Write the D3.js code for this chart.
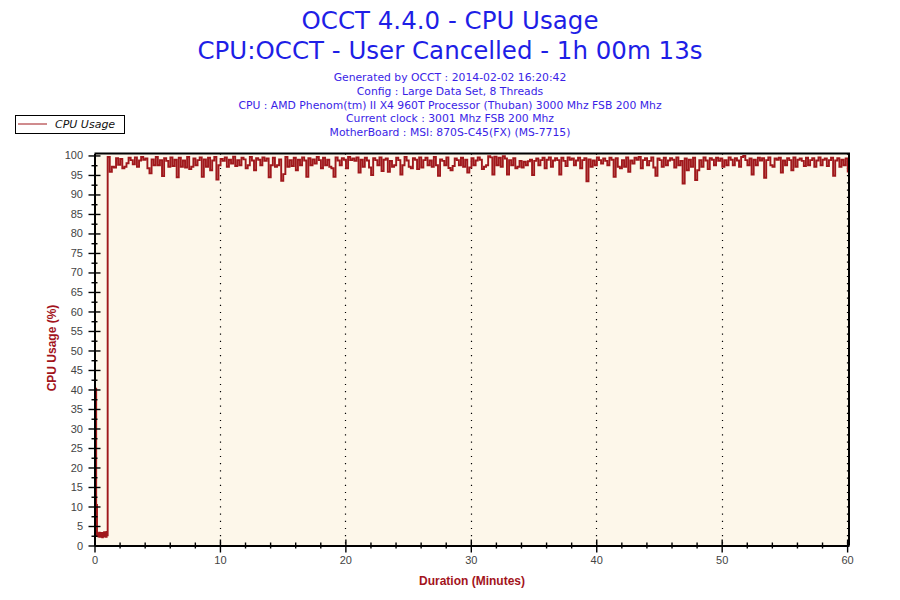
<!DOCTYPE html>
<html>
<head>
<meta charset="utf-8">
<script src="https://cdn.jsdelivr.net/npm/d3@7"></script>
<style>
  body { margin: 0; background: #fff; }
  svg { display: block; }
</style>
</head>
<body>
<div id="chart"></div>
<script>
// chart text
var titleLines = ["OCCT 4.4.0 - CPU Usage", "CPU:OCCT - User Cancelled - 1h 00m 13s"];
var infoLines = [
  "Generated by OCCT : 2014-02-02 16:20:42",
  "Config : Large Data Set, 8 Threads",
  "CPU : AMD Phenom(tm) II X4 960T Processor (Thuban) 3000 Mhz FSB 200 Mhz",
  "Current clock : 3001 Mhz FSB 200 Mhz",
  "MotherBoard : MSI: 870S-C45(FX) (MS-7715)"
];
var seriesName = "CPU Usage";

// axis ticks
var yMajorTicks = [0, 5, 10, 15, 20, 25, 30, 35, 40, 45, 50, 55, 60, 65, 70, 75, 80, 85, 90, 95, 100];
var yMinorTicks = [2.5, 7.5, 12.5, 17.5, 22.5, 27.5, 32.5, 37.5, 42.5, 47.5, 52.5, 57.5, 62.5, 67.5, 72.5, 77.5, 82.5, 87.5, 92.5, 97.5];
var xMajorTicks = [0, 10, 20, 30, 40, 50, 60];
var xMinorTicks = [2, 4, 6, 8, 12, 14, 16, 18, 22, 24, 26, 28, 32, 34, 36, 38, 42, 44, 46, 48, 52, 54, 56, 58];

// first minute, before the load starts (seconds, %)
var startSeconds = [4, 8, 10, 12, 14, 16, 19, 22, 25, 28, 31, 34, 37, 40, 43, 46, 49, 52, 55, 58, 61];
var startValues = [40.2, 2.5, 10.4, 2.4, 3.1, 2.9, 2.3, 3.3, 2.2, 2.8, 2.4, 3.2, 2.1, 2.7, 2.3, 3.4, 2.4, 2.6, 2.2, 3.5, 2.6];

// load phase, one reading every 10 s from 63 s
var loadStartSecond = 63;
var loadStepSeconds = 10;
var loadValues = [
  99.6, 95.8, 97.1, 96.9, 99.3, 97.6, 99.1, 96.7, 97.1, 98.0,
  99.4, 98.8, 97.7, 99.5, 97.1, 98.7, 99.6, 98.9, 99.2, 96.7,
  95.4, 99.0, 97.5, 99.6, 97.5, 98.8, 94.7, 99.3, 98.6, 97.1,
  99.5, 97.3, 98.9, 94.4, 99.4, 97.1, 98.7, 96.9, 99.6, 96.5,
  97.1, 99.2, 97.5, 98.8, 99.5, 94.5, 99.0, 97.1, 99.4, 96.2,
  98.7, 99.6, 93.8, 97.5, 99.1, 98.6, 99.5, 97.1, 98.9, 97.9,
  99.7, 97.3, 98.8, 97.5, 99.4, 99.0, 96.7, 97.5, 99.6, 98.7,
  96.2, 99.3, 98.9, 97.5, 99.5, 98.6, 99.2, 94.4, 97.5, 99.4,
  97.1, 97.5, 99.0, 93.5, 95.2, 99.6, 97.1, 98.8, 97.3, 99.4,
  96.2, 98.9, 97.5, 99.5, 98.7, 94.5, 99.3, 97.5, 99.0, 97.9,
  99.6, 98.8, 96.7, 99.4, 97.5, 98.9, 97.1, 96.7, 94.5, 99.5,
  98.7, 97.5, 99.3, 98.9, 96.7, 99.6, 98.8, 99.2, 98.6, 99.5,
  95.6, 98.9, 97.1, 99.4, 98.7, 96.9, 95.0, 99.3, 98.8, 97.5,
  99.5, 96.0, 98.9, 99.2, 95.8, 98.6, 97.1, 97.5, 99.4, 98.8,
  95.1, 97.5, 99.6, 98.7, 97.1, 96.7, 99.3, 98.9, 96.5, 99.5,
  96.9, 98.8, 99.4, 97.5, 98.7, 97.1, 99.6, 97.5, 94.8, 99.0,
  98.6, 97.5, 99.5, 96.8, 96.2, 97.3, 99.2, 98.8, 97.5, 99.4,
  97.1, 98.9, 95.6, 96.9, 99.3, 97.5, 98.7, 99.5, 98.9, 96.5,
  97.1, 97.5, 99.8, 99.5, 95.1, 99.7, 97.5, 99.4, 97.1, 99.8,
  99.2, 95.1, 98.8, 97.5, 99.3, 96.7, 97.1, 98.6, 96.9, 98.4,
  97.5, 98.5, 98.9, 95.0, 98.6, 99.2, 97.5, 98.8, 99.4, 96.7,
  98.9, 99.5, 97.1, 98.7, 99.3, 98.8, 95.1, 99.4, 98.6, 97.3,
  99.5, 98.9, 99.2, 97.5, 98.7, 99.4, 96.7, 98.8, 99.3, 93.4,
  99.0, 97.1, 98.7, 97.5, 99.5, 98.8, 97.9, 99.2, 98.6, 97.5,
  99.4, 98.9, 94.5, 99.3, 97.1, 96.7, 98.8, 97.1, 99.5, 95.8,
  98.7, 97.9, 99.4, 98.9, 99.6, 96.7, 98.8, 99.3, 97.5, 98.6,
  99.5, 96.9, 94.8, 99.2, 98.8, 97.1, 99.4, 97.5, 98.7, 99.3,
  98.9, 96.9, 99.5, 97.5, 98.6, 92.8, 99.2, 96.2, 98.9, 97.1,
  99.4, 93.7, 96.2, 98.8, 97.1, 99.5, 98.7, 96.5, 99.3, 98.9,
  97.5, 99.4, 98.6, 99.2, 97.1, 98.8, 97.5, 99.5, 98.9, 97.5,
  99.3, 98.7, 97.1, 99.6, 99.9, 98.8, 97.5, 99.2, 95.1, 98.9,
  97.5, 99.4, 98.7, 99.3, 94.3, 98.8, 99.5, 97.5, 97.1, 99.2,
  98.9, 99.4, 95.6, 98.7, 97.5, 99.3, 98.8, 96.2, 99.5, 97.1,
  98.9, 99.2, 98.6, 97.3, 99.4, 97.5, 98.8, 99.3, 97.1, 98.7,
  99.5, 97.5, 98.9, 99.2, 97.3, 98.8, 99.4, 94.8, 98.7, 99.3,
  97.1, 98.9, 97.5, 99.2, 95.6
];

var svgWidth = 900;
var svgHeight = 600;

// plot box in pixels
var plot = { left: 94.5, right: 849, top: 153.5, bottom: 545.5 };

var lineColor = "#a0181c";
var labelRed = "#a3141c";
var titleBlue = "#1e1ee6";
var infoBlue = "#3a1ee6";

var svg = d3.select("#chart")
  .append("svg")
  .attr("width", svgWidth)
  .attr("height", svgHeight);

// build the point list from the arrays
var points = [];
startSeconds.forEach(function(s, i) {
  points.push({ min: s / 60, value: startValues[i] });
});
loadValues.forEach(function(v, i) {
  points.push({ min: (loadStartSecond + i * loadStepSeconds) / 60, value: v });
});

var xScale = d3.scaleLinear()
  .domain([0, 60.15])
  .range([plot.left, plot.right]);

var yScale = d3.scaleLinear()
  .domain([0, 100.5])
  .range([plot.bottom, plot.top]);

// titles
svg.selectAll("text.title")
  .data(titleLines)
  .enter()
  .append("text")
  .attr("class", "title")
  .attr("x", 450)
  .attr("y", (d, i) => 29 + i * 30)
  .attr("text-anchor", "middle")
  .attr("font-family", "DejaVu Sans, Verdana, sans-serif")
  .attr("font-size", "24.5px")
  .attr("fill", titleBlue)
  .text(d => d);

svg.selectAll("text.info")
  .data(infoLines)
  .enter()
  .append("text")
  .attr("class", "info")
  .attr("x", 450)
  .attr("y", (d, i) => 81 + i * 13.8)
  .attr("text-anchor", "middle")
  .attr("font-family", "DejaVu Sans, Verdana, sans-serif")
  .attr("font-size", "10.8px")
  .attr("fill", infoBlue)
  .text(d => d);

// legend
var legend = svg.append("g");
legend.append("rect")
  .attr("x", 15.5)
  .attr("y", 115.5)
  .attr("width", 109)
  .attr("height", 18)
  .attr("fill", "#fff")
  .attr("stroke", "#000")
  .attr("stroke-width", 1);
legend.append("line")
  .attr("x1", 18)
  .attr("x2", 47)
  .attr("y1", 124)
  .attr("y2", 124)
  .attr("stroke", lineColor)
  .attr("stroke-width", 1);
legend.append("text")
  .attr("x", 55)
  .attr("y", 128)
  .attr("font-family", "DejaVu Sans, Verdana, sans-serif")
  .attr("font-style", "italic")
  .attr("font-size", "11px")
  .attr("fill", "#111")
  .text(seriesName);

// plot background
svg.append("rect")
  .attr("x", plot.left)
  .attr("y", plot.top)
  .attr("width", plot.right - plot.left)
  .attr("height", plot.bottom - plot.top)
  .attr("fill", "#fdf7ea");

// dotted vertical grid
svg.selectAll("line.grid")
  .data(xMajorTicks.filter(d => d > 0))
  .enter()
  .append("line")
  .attr("class", "grid")
  .attr("x1", d => Math.round(xScale(d)) + 0.5)
  .attr("x2", d => Math.round(xScale(d)) + 0.5)
  .attr("y1", plot.top)
  .attr("y2", plot.bottom)
  .attr("stroke", "#000")
  .attr("stroke-width", 1.2)
  .attr("stroke-dasharray", "1.2,6");

// the data line, drawn as steps like the logger does
var line = d3.line()
  .curve(d3.curveStepAfter)
  .x(d => xScale(d.min))
  .y(d => yScale(d.value));

svg.append("path")
  .datum(points)
  .attr("d", line)
  .attr("fill", "none")
  .attr("stroke", lineColor)
  .attr("stroke-width", 1.9);

// top and right border
svg.append("path")
  .attr("d", `M${plot.left},${plot.top}H${plot.right}V${plot.bottom}`)
  .attr("fill", "none")
  .attr("stroke", "#000")
  .attr("stroke-width", 2);

// y axis, major and minor ticks crossing the axis line
var yAxisG = svg.append("g")
  .attr("transform", `translate(${plot.left}, 0)`)
  .call(d3.axisLeft(yScale).tickValues(yMajorTicks).tickSize(6).tickSizeOuter(0).tickPadding(5.5));
yAxisG.selectAll(".tick line").attr("x1", 6);

var yMinorG = svg.append("g")
  .attr("transform", `translate(${plot.left}, 0)`)
  .call(d3.axisLeft(yScale).tickValues(yMinorTicks).tickSize(3).tickSizeOuter(0).tickFormat(""));
yMinorG.selectAll(".tick line").attr("x1", 3);
yMinorG.select(".domain").remove();

// x axis
var xAxisG = svg.append("g")
  .attr("transform", `translate(0, ${plot.bottom})`)
  .call(d3.axisBottom(xScale).tickValues(xMajorTicks).tickSize(7).tickSizeOuter(0).tickPadding(4));
xAxisG.selectAll(".tick line").attr("y1", -6);

var xMinorG = svg.append("g")
  .attr("transform", `translate(0, ${plot.bottom})`)
  .call(d3.axisBottom(xScale).tickValues(xMinorTicks).tickSize(3).tickSizeOuter(0).tickFormat(""));
xMinorG.selectAll(".tick line").attr("y1", -3);
xMinorG.select(".domain").remove();

[yAxisG, yMinorG, xAxisG, xMinorG].forEach(function(g) {
  g.selectAll("line").attr("stroke", "#000").attr("stroke-width", 1.4);
  g.selectAll(".domain").attr("stroke", "#000").attr("stroke-width", 2);
  g.selectAll("text")
    .attr("font-family", "Liberation Sans, Arial, sans-serif")
    .attr("font-size", "11px")
    .attr("fill", "#444");
});

// axis titles
svg.append("text")
  .attr("transform", "rotate(-90)")
  .attr("x", -348)
  .attr("y", 56)
  .attr("text-anchor", "middle")
  .attr("font-family", "Liberation Sans, Arial, sans-serif")
  .attr("font-weight", "bold")
  .attr("font-size", "12px")
  .attr("fill", labelRed)
  .text("CPU Usage (%)");

svg.append("text")
  .attr("x", 472)
  .attr("y", 585)
  .attr("text-anchor", "middle")
  .attr("font-family", "Liberation Sans, Arial, sans-serif")
  .attr("font-weight", "bold")
  .attr("font-size", "12px")
  .attr("fill", labelRed)
  .text("Duration (Minutes)");
</script>
</body>
</html>
